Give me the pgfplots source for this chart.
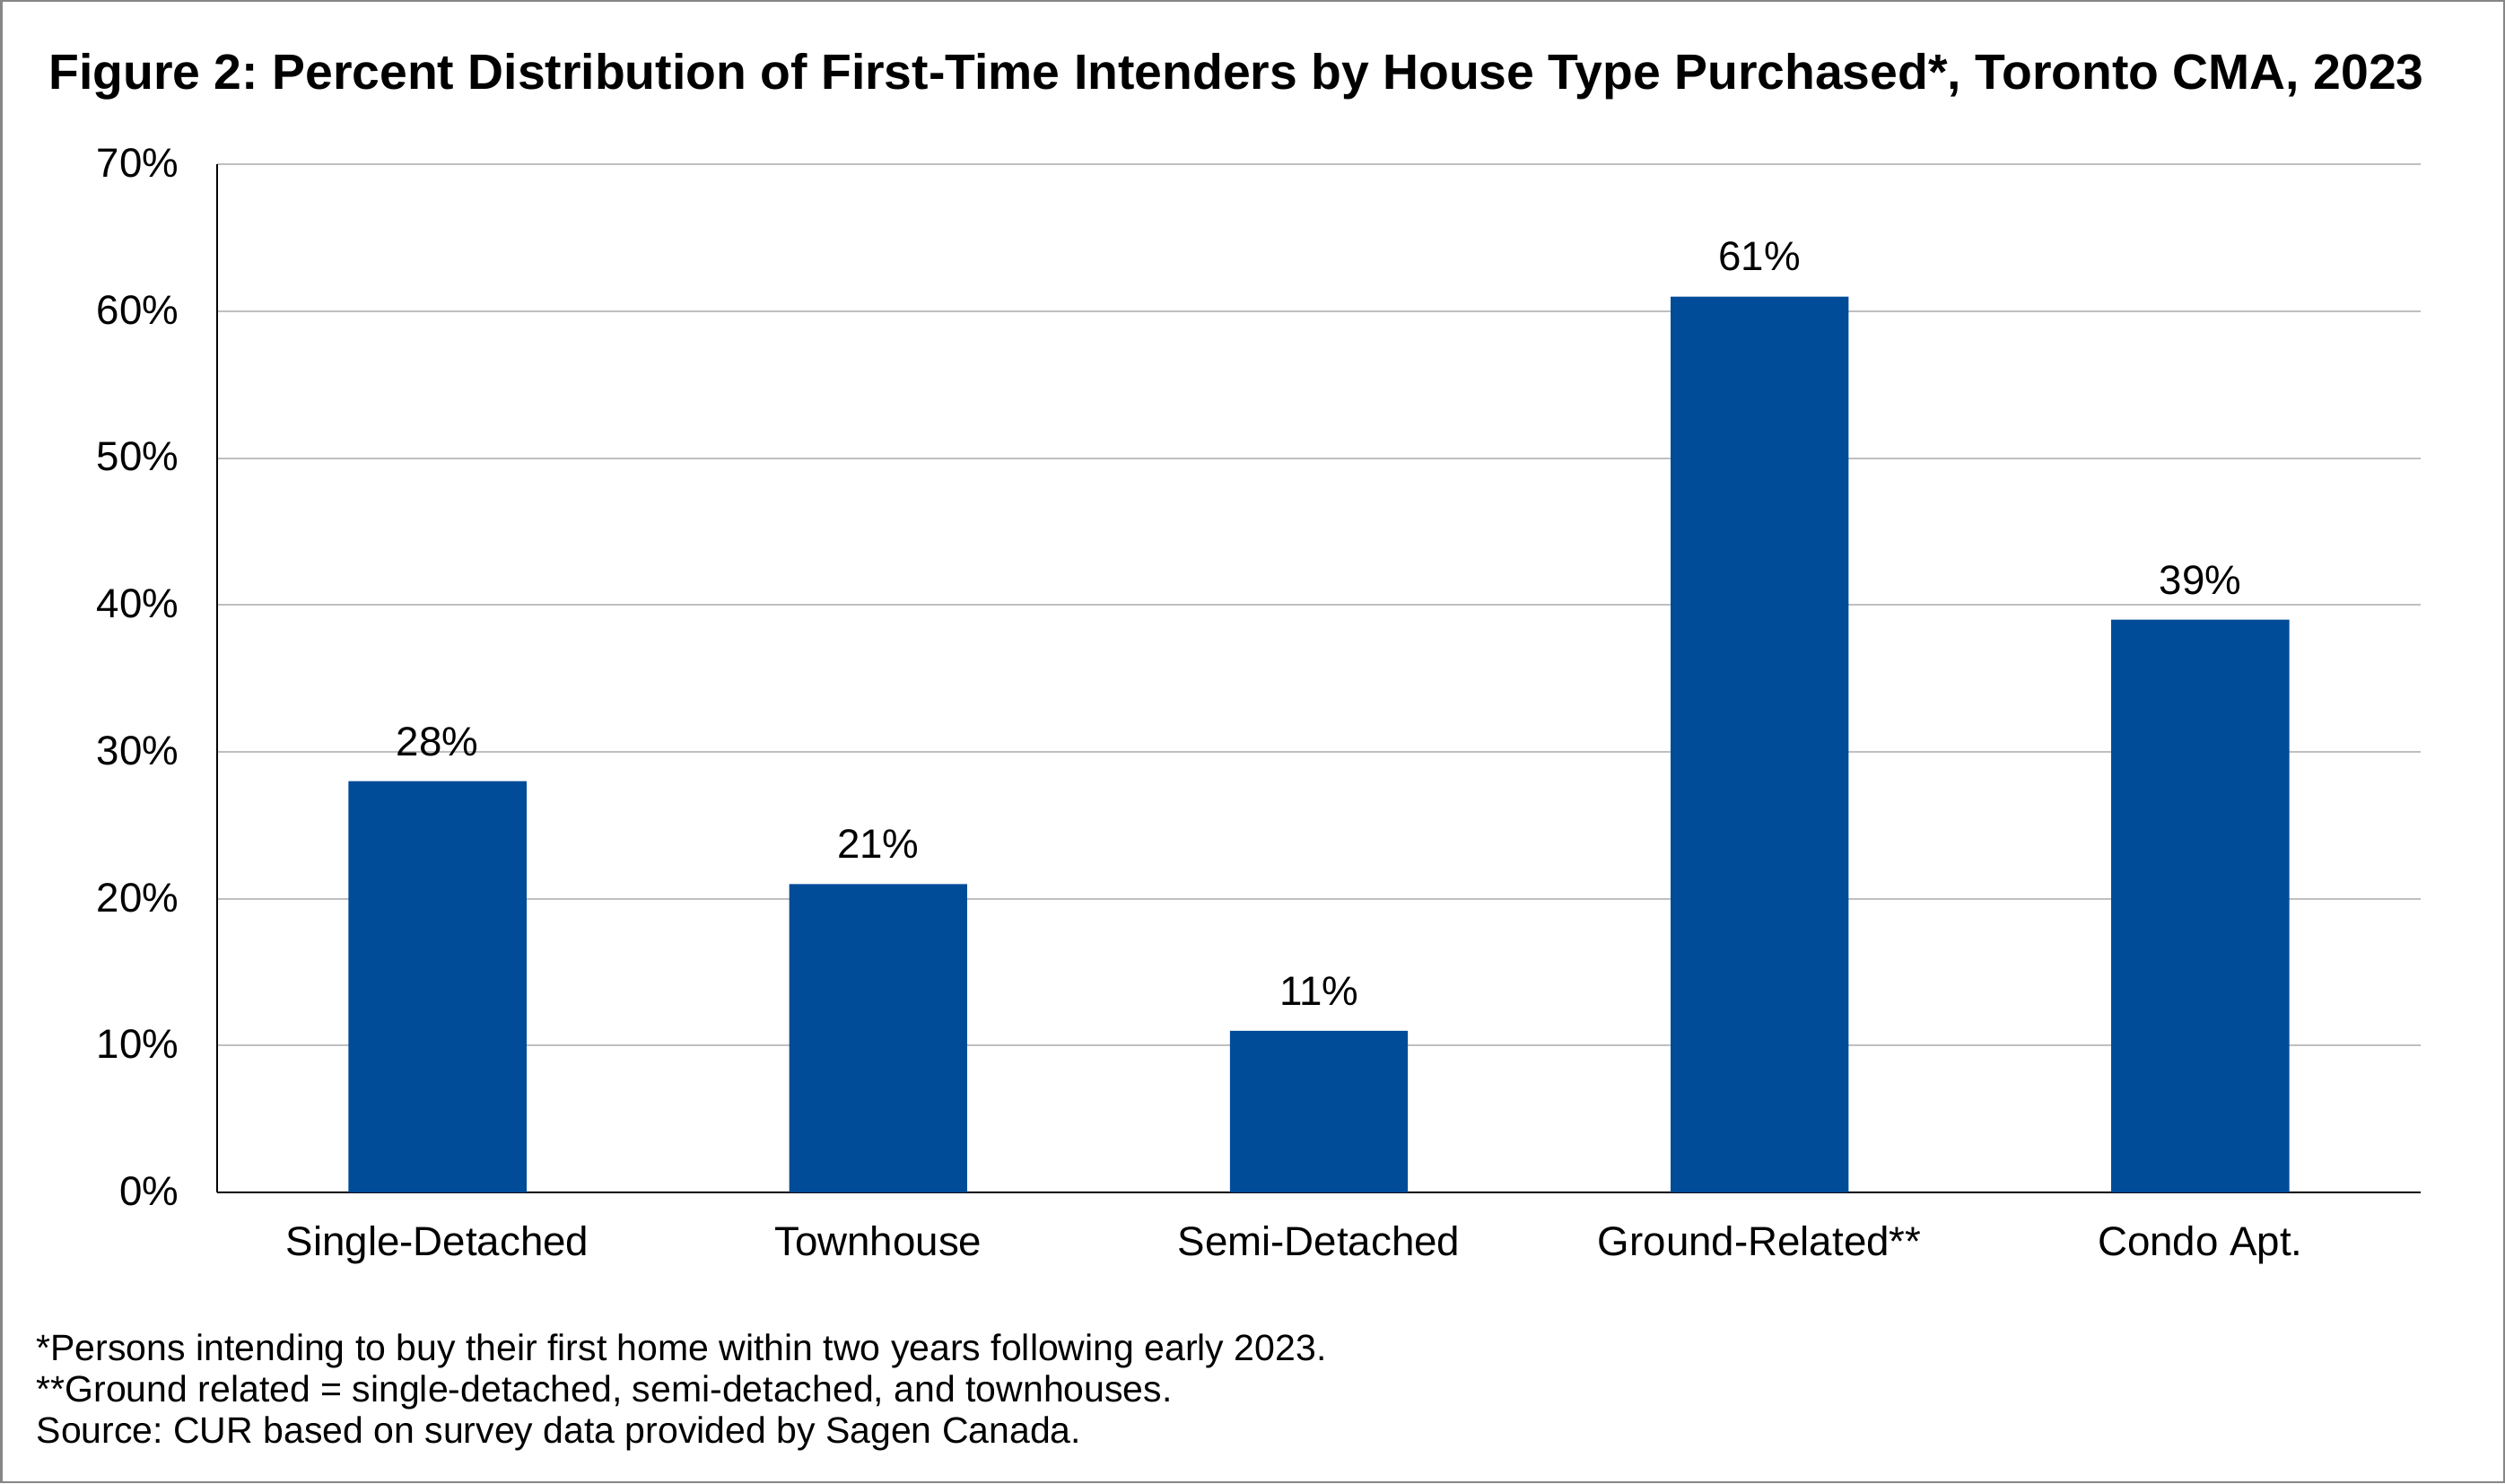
\documentclass[border=0pt]{standalone}
\usepackage{fontspec}
\setmainfont{Liberation Sans}
\usepackage{pgfplots}
\pgfplotsset{compat=1.18}
\definecolor{barblue}{HTML}{004C99}
\definecolor{gridgray}{RGB}{191,191,191}
\definecolor{framegray}{RGB}{134,134,134}
\frenchspacing
\begin{document}
\begin{tikzpicture}
\useasboundingbox (0,0) rectangle (837.6pt,495.9pt);
\draw[framegray, line width=0.75pt] (0.375pt,0.375pt) rectangle (837.225pt,495.525pt);
\node[anchor=base, inner sep=0pt, font=\fontsize{16.6}{20}\selectfont\bfseries] at (413.4pt,466.1pt)
  {Figure 2: Percent Distribution of First-Time Intenders by House Type Purchased*, Toronto CMA, 2023};
\begin{axis}[
  at={(72.6pt,97.2pt)}, anchor=south west,
  scale only axis, width=736.8pt, height=343.7pt,
  /pgf/number format/assume math mode=true,
  ybar, bar width=59.5pt,
  xmin=-0.5, xmax=4.5, ymin=0, ymax=70,
  xtick=data,
  xticklabels={Single-Detached,Townhouse,Semi-Detached,Ground-Related**,Condo Apt.},
  ytick={0,10,20,30,40,50,60,70},
  yticklabels={0\%,10\%,20\%,30\%,40\%,50\%,60\%,70\%},
  major tick length=0pt, tick style={draw=none},
  axis x line*=bottom, axis y line*=left,
  axis line style={-, black, line width=0.6pt},
  ymajorgrids, grid style={gridgray, line width=0.6pt},
  tick label style={font=\fontsize{13.7}{16}\selectfont, inner sep=0pt},
  yticklabel style={anchor=base east, xshift=-12.6pt, yshift=-4.3pt},
  xticklabel style={anchor=base, yshift=-21pt},
  nodes near coords={\pgfmathprintnumber{\pgfplotspointmeta}\%},
  every node near coord/.append style={font=\fontsize{13.7}{16}\selectfont, inner sep=0pt, text depth=0pt, yshift=8.4pt, black},
  clip=false,
]
\addplot[fill=barblue, draw=none] coordinates {(0,28) (1,21) (2,11) (3,61) (4,39)};
\end{axis}
\begin{scope}[every node/.style={anchor=base west, inner sep=0pt, font=\fontsize{12.3}{14}\selectfont}]
\node at (12pt,40.9pt) {*Persons intending to buy their first home within two years following early 2023.};
\node at (12pt,27.1pt) {**Ground related = single-detached, semi-detached, and townhouses.};
\node at (12pt,13.5pt) {Source: CUR based on survey data provided by Sagen Canada.};
\end{scope}
\end{tikzpicture}
\end{document}
